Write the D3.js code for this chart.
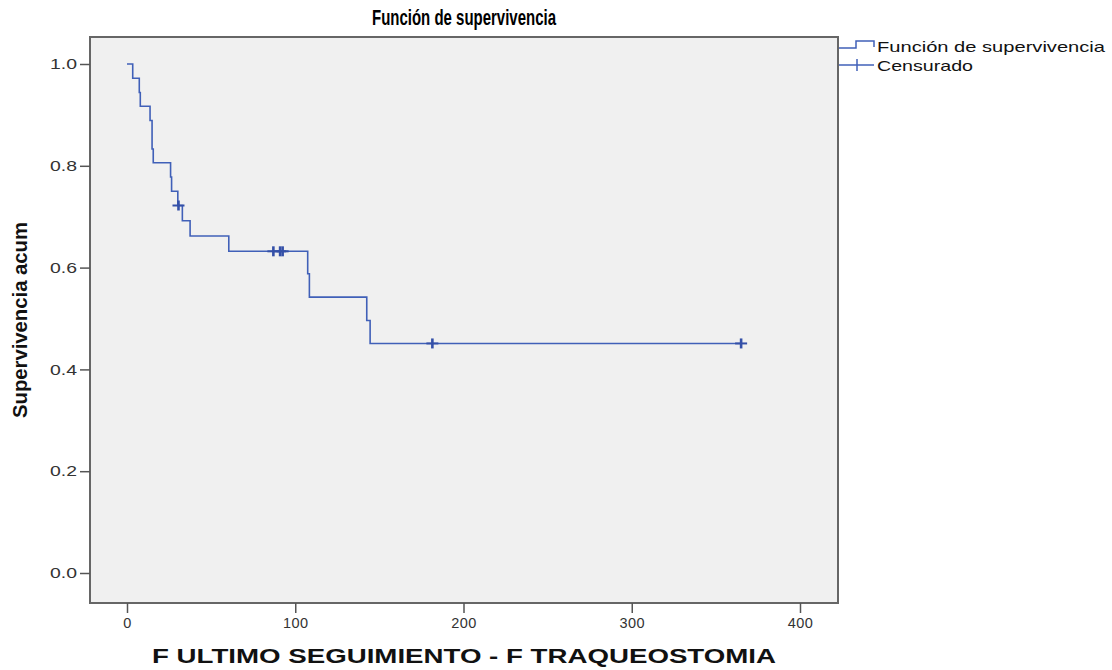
<!DOCTYPE html>
<html>
<head>
<meta charset="utf-8">
<script src="https://cdn.jsdelivr.net/npm/d3@7"></script>
<style>
	body { margin: 0; background: #fff; }
	svg { display: block; }
</style>
</head>
<body>
<div id="chart"></div>
<script>
// Kaplan-Meier steps (days, cumulative survival after the drop)
var stepTimes = [3.4, 7.3, 7.9, 13.7, 14.9, 15.6, 25.9, 26.5, 30.2, 32.9, 37.5, 60.5, 107.4, 108.4, 142.5, 144.5];
var stepSurv = [0.972, 0.944, 0.917, 0.889, 0.833, 0.806, 0.778, 0.750, 0.722, 0.692, 0.662, 0.632, 0.588, 0.542, 0.496, 0.451];
var lastTime = 365;

// censored cases
var censTimes = [30.6, 87, 91, 92.5, 181.5, 365];
var censSurv = [0.722, 0.632, 0.632, 0.632, 0.451, 0.451];

var xTicks = [0, 100, 200, 300, 400];
var yTicks = [0, 0.2, 0.4, 0.6, 0.8, 1.0];

var labels = {
	title: 'Función de supervivencia',
	xTitle: 'F ULTIMO SEGUIMIENTO - F TRAQUEOSTOMIA',
	yTitle: 'Supervivencia acum',
	legend: ['Función de supervivencia', 'Censurado']
};

var width = 1112, height = 670;
var frame = {left: 90, top: 37, right: 838, bottom: 603};
var lineColor = '#4060b8';
var markColor = '#3450a8';

var svg = d3.select('#chart').append('svg')
	.attr('width', width)
	.attr('height', height);

var x = d3.scaleLinear().domain([0, 400]).range([127, 800]);
var y = d3.scaleLinear().domain([0, 1]).range([573, 64]);

/*
 * plot area
 */
svg.append('rect')
	.attr('x', frame.left)
	.attr('y', frame.top)
	.attr('width', frame.right - frame.left)
	.attr('height', frame.bottom - frame.top)
	.attr('fill', '#f0f0f0')
	.attr('stroke', '#666')
	.attr('stroke-width', 2);

var yAxis = svg.append('g')
	.attr('transform', 'translate(' + frame.left + ',0)')
	.call(d3.axisLeft(y).tickValues(yTicks).tickFormat(d3.format('.1f')).tickSize(10).tickPadding(3));

var xAxis = svg.append('g')
	.attr('transform', 'translate(0,' + frame.bottom + ')')
	.call(d3.axisBottom(x).tickValues(xTicks).tickFormat(d3.format('d')).tickSize(10).tickPadding(5));

[xAxis, yAxis].forEach(function(a) {
	a.select('.domain').remove();
	a.selectAll('.tick line').attr('stroke', '#555').attr('stroke-width', 1.5);
	a.selectAll('.tick text')
		.attr('fill', '#333')
		.style('font-family', 'Arial, "Liberation Sans", sans-serif')
		.style('font-size', '14.5px');
});
yAxis.selectAll('.tick text').attr('textLength', 27).attr('lengthAdjust', 'spacingAndGlyphs');
xAxis.selectAll('.tick text').style('letter-spacing', '0.5px');

/*
 * survival curve
 */
var pts = [[0, 1]];
stepTimes.forEach(function(t, i) {
	pts.push([t, i == 0 ? 1 : stepSurv[i - 1]]);
	pts.push([t, stepSurv[i]]);
});
pts.push([lastTime, stepSurv[stepSurv.length - 1]]);

var line = d3.line()
	.x(function(d) { return x(d[0]); })
	.y(function(d) { return y(d[1]); });

svg.append('path')
	.datum(pts)
	.attr('d', line)
	.attr('fill', 'none')
	.attr('stroke', lineColor)
	.attr('stroke-width', 1.6);

var cens = svg.selectAll('.cens')
	.data(censTimes)
	.enter()
		.append('g')
			.attr('class', 'cens')
			.attr('transform', function(d, i) {
				return 'translate(' + x(d) + ',' + y(censSurv[i]) + ')';
			});

cens.append('line')
	.attr('x1', -6).attr('x2', 6)
	.attr('stroke', markColor).attr('stroke-width', 2);
cens.append('line')
	.attr('y1', -5).attr('y2', 5)
	.attr('stroke', markColor).attr('stroke-width', 2.6);

/*
 * titles
 */
svg.append('text')
	.attr('x', 464).attr('y', 25)
	.attr('text-anchor', 'middle')
	.attr('textLength', 184).attr('lengthAdjust', 'spacingAndGlyphs')
	.style('font-family', '"Liberation Sans Narrow", "Arial Narrow", "Liberation Sans", Arial, sans-serif')
	.style('font-weight', 'bold')
	.style('font-size', '22px')
	.attr('fill', '#000')
	.text(labels.title);

svg.append('text')
	.attr('x', 464).attr('y', 663)
	.attr('text-anchor', 'middle')
	.attr('textLength', 624).attr('lengthAdjust', 'spacingAndGlyphs')
	.style('font-family', '"Liberation Sans", Arial, sans-serif')
	.style('font-weight', 'bold')
	.style('font-size', '20px')
	.attr('fill', '#111')
	.text(labels.xTitle);

svg.append('text')
	.attr('transform', 'translate(27,320) rotate(-90)')
	.attr('text-anchor', 'middle')
	.attr('textLength', 196).attr('lengthAdjust', 'spacingAndGlyphs')
	.style('font-family', '"Liberation Sans Narrow", "Arial Narrow", "Liberation Sans", Arial, sans-serif')
	.style('font-weight', 'bold')
	.style('font-size', '21px')
	.attr('fill', '#111')
	.text(labels.yTitle);

/*
 * legend
 */
var lg = svg.append('g');

lg.append('path')
	.attr('d', 'M839,48 H856 V41 H874 V47')
	.attr('fill', 'none')
	.attr('stroke', lineColor)
	.attr('stroke-width', 1.5);

lg.append('line')
	.attr('x1', 839).attr('x2', 874)
	.attr('y1', 65).attr('y2', 65)
	.attr('stroke', lineColor).attr('stroke-width', 1.5);
lg.append('line')
	.attr('x1', 857).attr('x2', 857)
	.attr('y1', 59).attr('y2', 71)
	.attr('stroke', lineColor).attr('stroke-width', 1.5);

var legendWidths = [228, 96];
lg.selectAll('.ltext')
	.data(labels.legend)
	.enter()
		.append('text')
			.attr('class', 'ltext')
			.attr('x', 877)
			.attr('y', function(d, i) { return 52 + i * 19; })
			.attr('textLength', function(d, i) { return legendWidths[i]; })
			.attr('lengthAdjust', 'spacingAndGlyphs')
			.style('font-family', 'Arial, "Liberation Sans", sans-serif')
			.style('font-size', '15px')
			.attr('fill', '#111')
			.text(function(d) { return d; });
</script>
</body>
</html>
